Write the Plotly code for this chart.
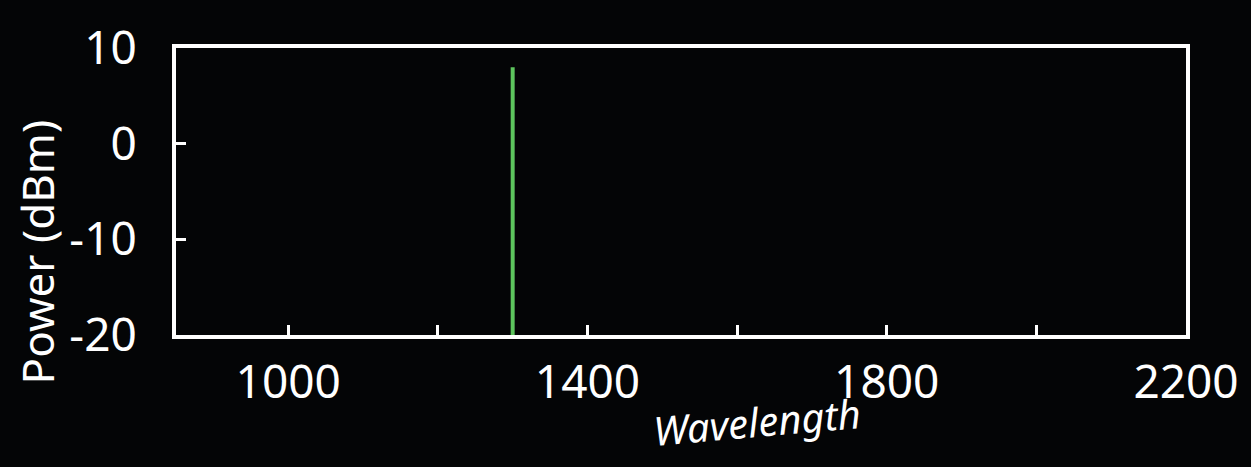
import plotly.graph_objects as go

# ---- data ----
wavelength_ticks = [1000, 1200, 1400, 1600, 1800, 2000, 2200]
wavelength_labels = ["1000", "", "1400", "", "1800", "", "2200"]
power_ticks = [-20, -10, 0, 10]
power_labels = ["-20", "-10", "0", "10"]
laser_wavelength = [1300, 1300]
laser_power = [-20, 8]

FONT = "Noto Sans, Open Sans, sans-serif"
BG = "#040506"

fig = go.Figure()
fig.add_trace(go.Scatter(
    x=laser_wavelength, y=laser_power, mode="lines",
    line=dict(color="#5dc55d", width=4), showlegend=False, hoverinfo="skip"))

axis_common = dict(
    showline=True, mirror=True, linecolor="white", linewidth=4,
    ticks="inside", ticklen=10, tickwidth=3, tickcolor="white",
    showgrid=False, zeroline=False,
    tickfont=dict(family=FONT, size=46, color="white"),
)

fig.update_xaxes(range=[850, 2200], tickmode="array", tickvals=wavelength_ticks,
                 ticktext=wavelength_labels, tickangle=0, ticklabelstandoff=4,
                 **axis_common)
fig.update_yaxes(range=[-20, 10], tickmode="array", tickvals=power_ticks,
                 ticktext=power_labels, ticklabelstandoff=26, **axis_common)

fig.update_layout(
    width=1251, height=467,
    margin=dict(l=176, r=63, t=48, b=132),
    paper_bgcolor=BG, plot_bgcolor=BG,
    annotations=[
        dict(text="Power (dBm)", xref="paper", yref="paper", x=-0.138, y=0.29,
             xanchor="center", yanchor="middle", textangle=-90, showarrow=False,
             font=dict(family=FONT, size=44, color="white")),
        dict(text="<i>Wavelength</i>", xref="paper", yref="paper", x=0.575, y=-0.30,
             xanchor="center", yanchor="middle", textangle=-5, showarrow=False,
             font=dict(family=FONT, size=40, color="white")),
    ],
)

fig.write_html("out.html")
